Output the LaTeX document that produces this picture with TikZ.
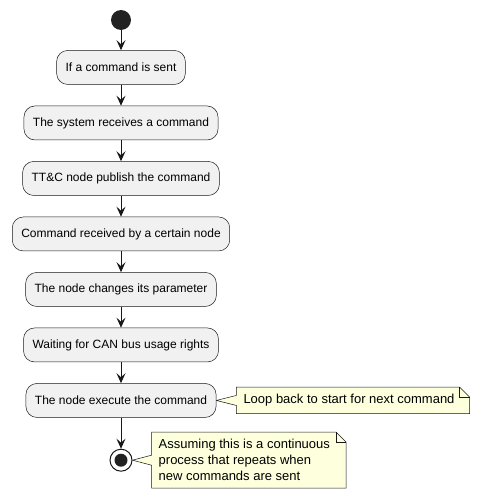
\documentclass[tikz,border=0pt]{standalone}
\usepackage{fontspec}
\setmainfont{Liberation Sans}
\usetikzlibrary{positioning,calc,arrows.meta,backgrounds}
\definecolor{actfill}{HTML}{F1F1F1}
\definecolor{lineclr}{HTML}{181818}
\definecolor{notefill}{HTML}{FEFFDD}
\definecolor{dotclr}{HTML}{222222}

\begin{document}
\begin{tikzpicture}[
    activity/.style={rectangle, rounded corners=11pt, draw=lineclr, line width=0.5pt, fill=actfill, minimum height=34pt, inner xsep=9pt, font=\fontsize{12}{14}\selectfont},
    startdot/.style={circle, fill=dotclr, minimum size=20pt, inner sep=0pt},
    stopdot/.style={circle, draw=lineclr, line width=1pt, fill=white, minimum size=22pt, inner sep=0pt},
    notetext/.style={inner xsep=0pt, inner ysep=7pt, align=left, font=\fontsize{13}{16}\selectfont},
    noteshape/.style={draw=lineclr, line width=0.5pt, fill=notefill},
    flow/.style={draw=lineclr, line width=1pt, -{Stealth[length=10pt, width=9pt, inset=4pt]}}
]
    \useasboundingbox (-121pt,20pt) rectangle (358pt,-475pt);

    % Start and activities
    \node[startdot] (start) at (0,0) {};
    \node[activity, below=20pt of start] (sent) {If a command is sent};
    \node[activity, below=21pt of sent] (receive) {The system receives a command};
    \node[activity, below=21pt of receive] (publish) {TT\&C node publish the command};
    \node[activity, below=21pt of publish] (received) {Command received by a certain node};
    \node[activity, below=21pt of received] (change) {The node changes its parameter};
    \node[activity, below=21pt of change] (wait) {Waiting for CAN bus usage rights};
    \node[activity, below=21pt of wait] (exec) {The node execute the command};
    \node[stopdot, below=31pt of exec] (stop) {};
    \fill[dotclr] (stop.center) circle (6.5pt);

    % Flow
    \foreach \a/\b in {start/sent, sent/receive, receive/publish, publish/received, received/change, change/wait, wait/exec, exec/stop}
        \draw[flow] (\a) -- (\b);

    % Notes
    \node[notetext, right=27pt of exec] (loopnote) {Loop back to start for next command};
    \node[notetext, right=26pt of stop] (endnote) {Assuming this is a continuous\\process that repeats when\\new commands are sent};
    \begin{scope}[on background layer]
        \draw[noteshape] ($(loopnote.north west)+(-7pt,0)$) -- ($(loopnote.north east)+(5pt,0)$)
            -- ($(loopnote.north east)+(15pt,-10pt)$) -- ($(loopnote.south east)+(15pt,0)$)
            -- ($(loopnote.south west)+(-7pt,0)$) -- ($(loopnote.west)+(-7pt,-5pt)$)
            -- (exec.east) -- ($(loopnote.west)+(-7pt,5pt)$) -- cycle;
        \draw[lineclr, line width=0.5pt] ($(loopnote.north east)+(5pt,0)$) |- ($(loopnote.north east)+(15pt,-10pt)$);
        \draw[noteshape] ($(endnote.north west)+(-7pt,0)$) -- ($(endnote.north east)+(6pt,0)$)
            -- ($(endnote.north east)+(16pt,-10pt)$) -- ($(endnote.south east)+(16pt,0)$)
            -- ($(endnote.south west)+(-7pt,0)$) -- ($(endnote.west)+(-7pt,-5pt)$)
            -- (stop.east) -- ($(endnote.west)+(-7pt,5pt)$) -- cycle;
        \draw[lineclr, line width=0.5pt] ($(endnote.north east)+(6pt,0)$) |- ($(endnote.north east)+(16pt,-10pt)$);
    \end{scope}
\end{tikzpicture}
\end{document}
